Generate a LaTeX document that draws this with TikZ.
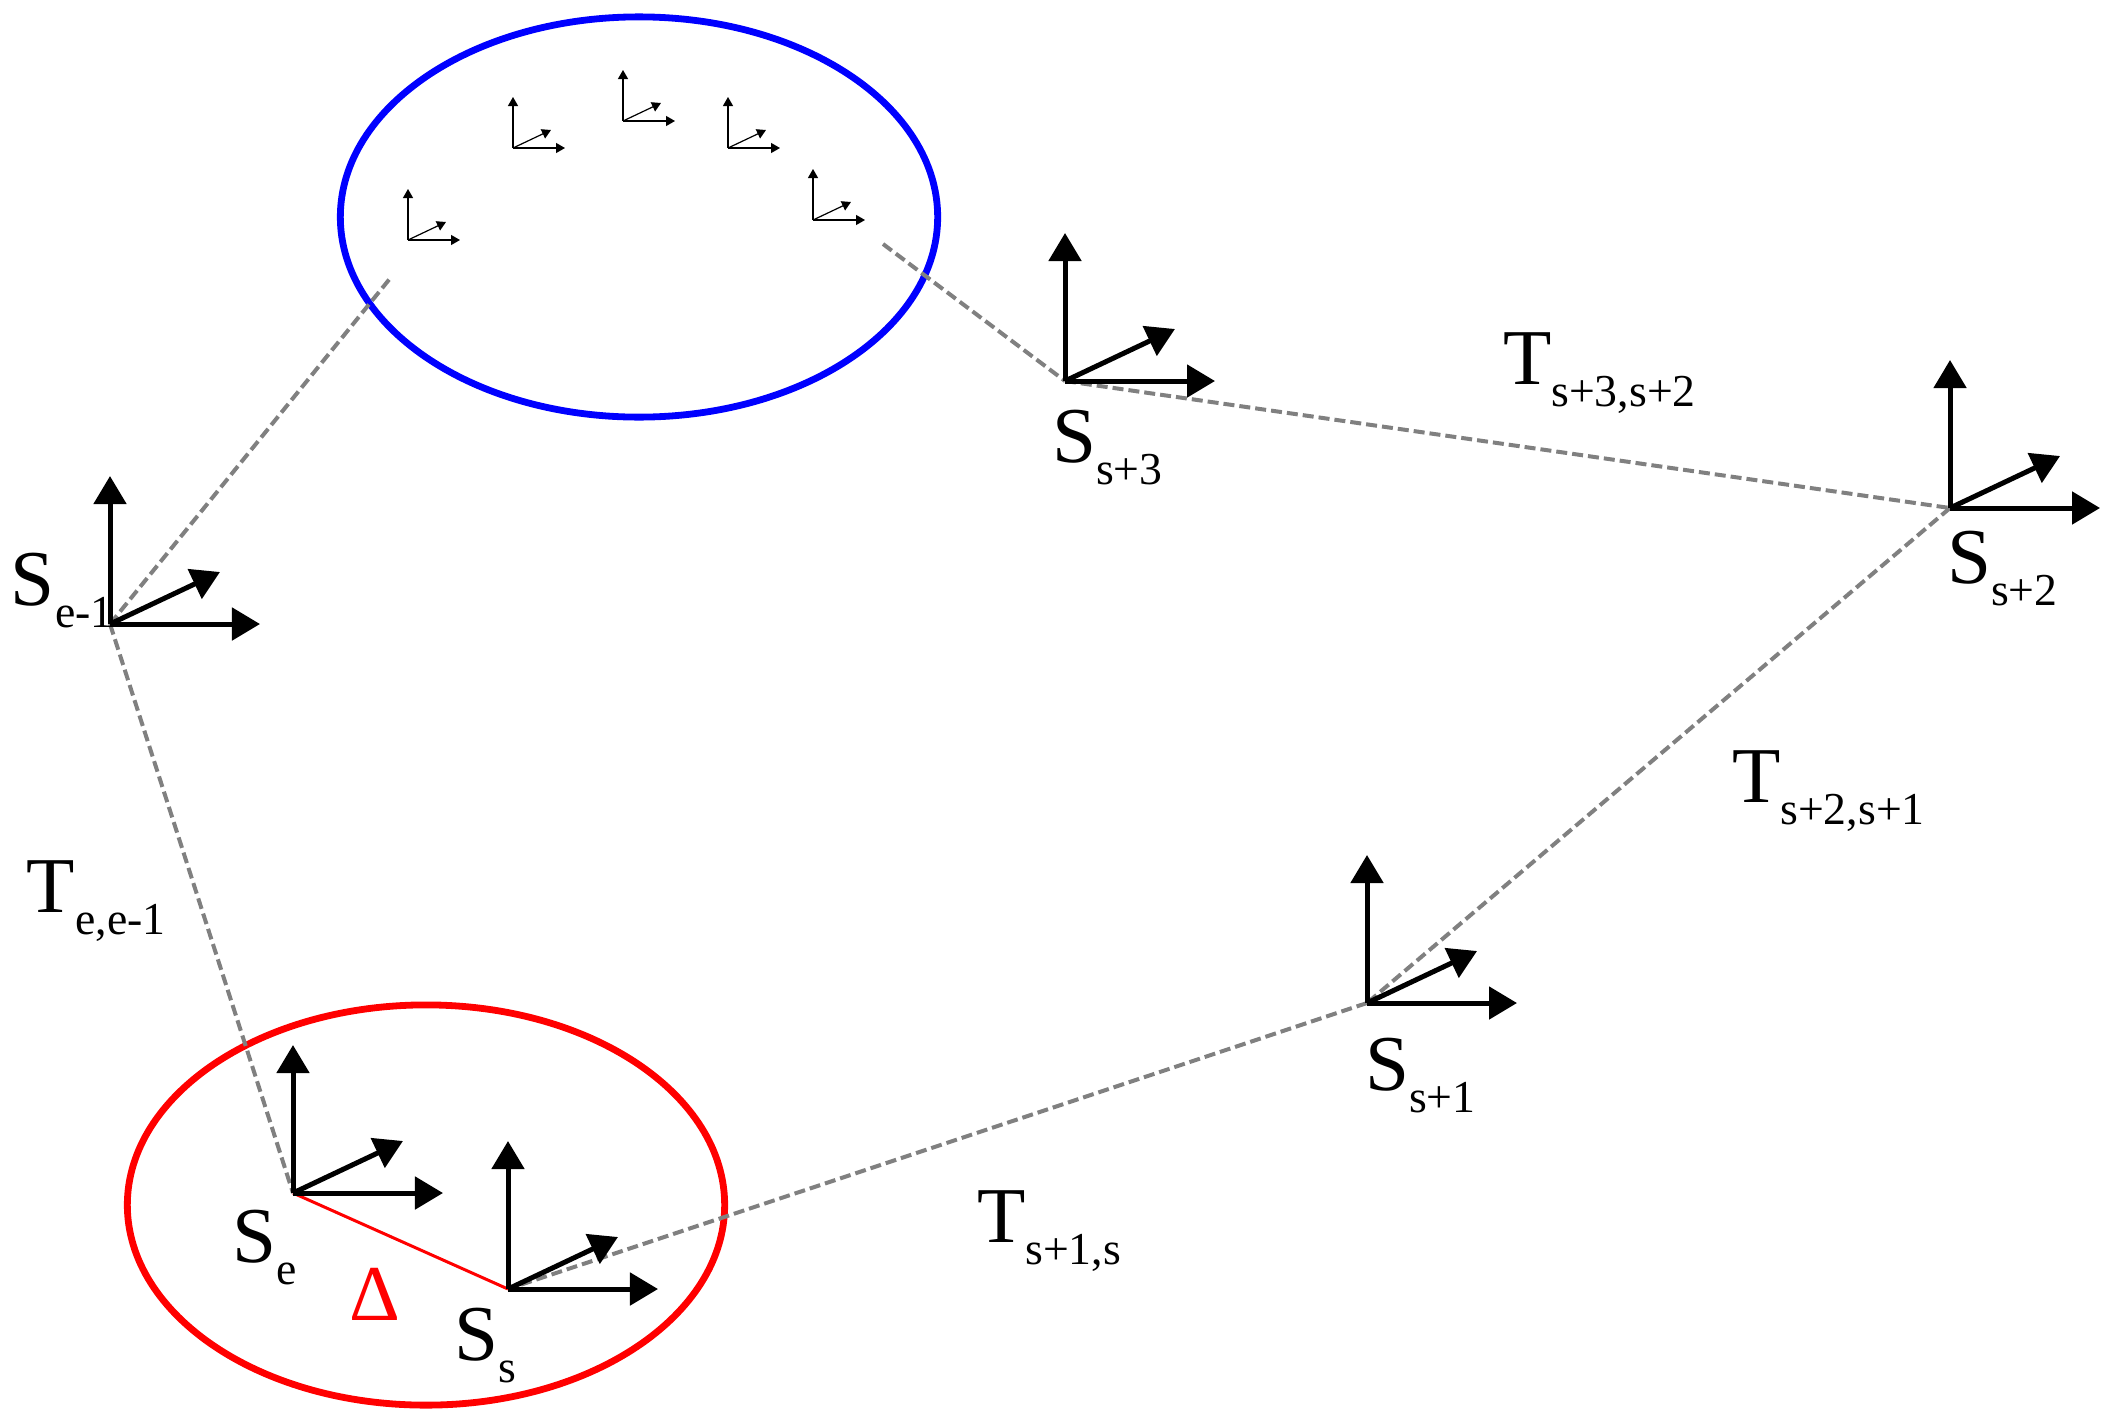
\documentclass[tikz,border=0pt]{standalone}
\usepackage{fontspec}
\setmainfont{Liberation Serif}
\usetikzlibrary{arrows.meta,shapes.geometric}
\definecolor{dgray}{RGB}{128,128,128}
\newcommand\labtxt[2]{{\fontsize{22.5}{24}\selectfont #1}\raisebox{-0.22cm}{\fontsize{13}{14}\selectfont #2}}
\begin{document}
\begin{tikzpicture}[x=0.01cm,y=-0.01cm,
  axis/.style={line width=0.05cm,-{Triangle[length=0.28cm,width=0.32cm]}},
  saxis/.style={line width=0.012cm,-{Triangle[length=0.09cm,width=0.1cm]}},
  conn/.style={draw=dgray, line width=0.04cm, dash pattern=on 0.11cm off 0.05cm},
  delta/.style={draw=red, line width=0.03cm},
  lbl/.style={anchor=base west, inner sep=0pt, outer sep=0pt},
  region/.style={ellipse, line width=0.068cm, minimum width=5.97cm, minimum height=4.0cm, inner sep=0pt},
  bigaxes/.pic={\draw[axis] (0,0) -- (0,-148); \draw[axis] (0,0) -- (150,0); \draw[axis] (0,0) -- (110,-52);},
  smallaxes/.pic={\draw[saxis] (0,0) -- (0,-51); \draw[saxis] (0,0) -- (52,0); \draw[saxis] (0,0) -- (38,-18);}
]
\useasboundingbox (0,0) rectangle (2113,1427);
% regions
\node[region, draw=blue] (blueell) at (639,217) {};
\node[region, draw=red] (redell) at (426,1205) {};
% frame origins
\coordinate (Sem1) at (110,624);
\coordinate (Ss3) at (1065,381);
\coordinate (Ss2) at (1950,508);
\coordinate (Ss1) at (1367,1003);
\coordinate (Se) at (293,1193);
\coordinate (Ss) at (508,1289);
\coordinate (k1) at (408,240);
\coordinate (k2) at (513,148);
\coordinate (k3) at (623,121);
\coordinate (k4) at (728,148);
\coordinate (k5) at (813,220);
\coordinate (c1) at (392,276);
\coordinate (c2) at (883,244);
% connectors
\draw[conn] (Sem1) -- (c1);
\draw[conn] (c2) -- (Ss3);
\draw[conn] (Ss3) -- (Ss2);
\draw[conn] (Ss2) -- (Ss1);
\draw[conn] (Ss1) -- (Ss);
\draw[conn] (Sem1) -- (Se);
\draw[delta] (Se) -- (Ss);
% frames
\foreach \p in {Sem1,Ss3,Ss2,Ss1,Se,Ss} \pic at (\p) {bigaxes};
\foreach \p in {k1,k2,k3,k4,k5} \pic at (\p) {smallaxes};
% labels
\node[lbl] (lSem1) at (11,605) {\labtxt{S}{e-1}};
\node[lbl] (lSs3) at (1052,462) {\labtxt{S}{s+3}};
\node[lbl] (lSs2) at (1947,583) {\labtxt{S}{s+2}};
\node[lbl] (lSs1) at (1365,1090) {\labtxt{S}{s+1}};
\node[lbl] (lSe) at (232,1262) {\labtxt{S}{e}};
\node[lbl] (lSs) at (454,1360) {\labtxt{S}{s}};
\node[lbl] (lT32) at (1503,384) {\labtxt{T}{s+3,s+2}};
\node[lbl] (lT21) at (1732,802) {\labtxt{T}{s+2,s+1}};
\node[lbl] (lTe) at (27,912) {\labtxt{T}{e,e-1}};
\node[lbl] (lT1s) at (977,1242) {\labtxt{T}{s+1,s}};
\node[inner sep=0pt, text=red, font=\fontsize{22.5}{24}\selectfont] (dlt) at (375,1294) {Δ};
\end{tikzpicture}
\end{document}
